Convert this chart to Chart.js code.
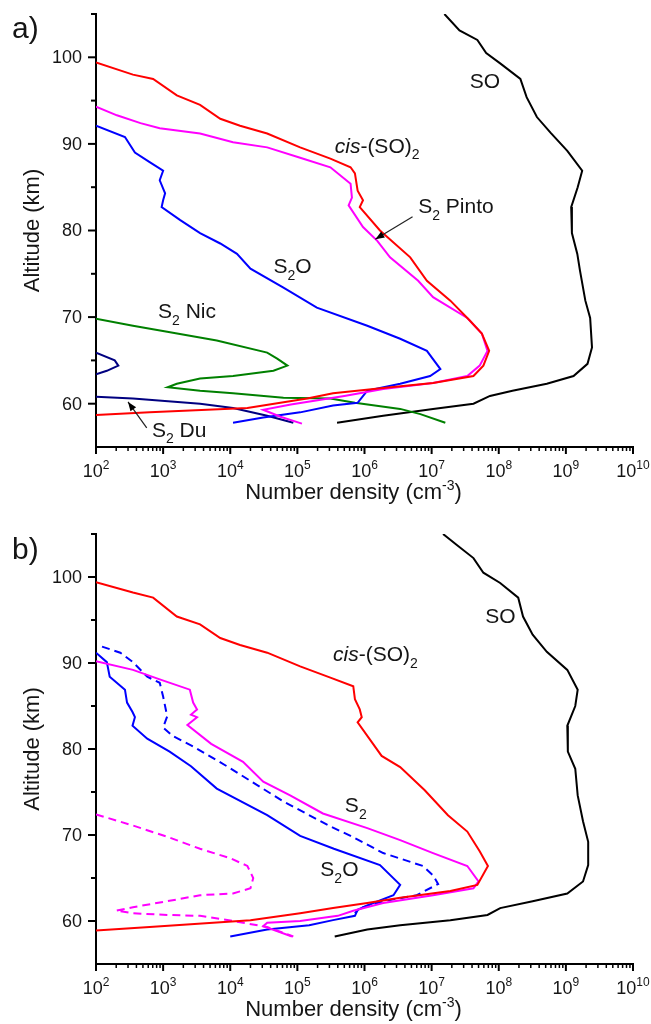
<!DOCTYPE html>
<html>
<head>
<meta charset="utf-8">
<script src="https://cdn.jsdelivr.net/npm/chart.js@4.4.1/dist/chart.umd.min.js"></script>
<style>
body { margin: 0; background: #fff; }
canvas { display: block; }
</style>
</head>
<body>
<canvas id="chartA" width="651" height="512"></canvas>
<canvas id="chartB" width="651" height="512"></canvas>
<script>
// ================================
// DATA  (altitude in km, number density in cm^-3)
// ================================

const altTicks = [60, 70, 80, 90, 100];
const altMinorTicks = [65, 75, 85, 95, 105];
const densityExponents = [2, 3, 4, 5, 6, 7, 8, 9, 10];

// ---- panel a ----
const soAltA = [105.0, 103.1, 102.0, 100.5, 99.3, 97.5, 95.4, 93.1, 91.3, 89.2, 86.9, 85.0, 82.7, 79.7, 77.3, 75.4, 71.9, 69.9, 66.5, 64.6, 63.2, 62.3, 61.5, 60.9, 60.0, 59.4, 58.6, 57.8];
const soDenA = [1.55e7, 2.6e7, 4.8e7, 6.5e7, 1.05e8, 2.1e8, 2.6e8, 3.7e8, 5.9e8, 1.05e9, 1.75e9, 1.5e9, 1.2e9, 1.23e9, 1.48e9, 1.62e9, 1.95e9, 2.3e9, 2.45e9, 2.1e9, 1.3e9, 5.2e8, 1.6e8, 7.4e7, 4.2e7, 1.05e7, 1.9e6, 3.9e5];

const cisAltA = [99.4, 98.0, 97.5, 95.6, 94.5, 92.9, 92.1, 91.2, 89.6, 88.3, 87.3, 86.6, 84.6, 83.5, 82.7, 80.0, 76.9, 74.2, 71.9, 69.6, 68.1, 66.1, 64.4, 63.2, 62.4, 61.8, 61.2, 60.6, 59.5, 59.0, 58.7];
const cisDenA = [1e2, 3.55e2, 7.1e2, 1.6e3, 3.55e3, 7.1e3, 1.4e4, 3.55e4, 1.1e5, 3.1e5, 6.2e5, 7.2e5, 7.9e5, 9.5e5, 8.5e5, 1.7e6, 4.8e6, 8.5e6, 1.9e7, 3.7e7, 5.6e7, 7.2e7, 5.9e7, 4.2e7, 1.05e7, 1.9e6, 3.4e5, 1.4e5, 1.8e4, 6.3e2, 1e2];

const pintoAltA = [94.3, 93.3, 92.4, 91.8, 91.2, 90.2, 89.6, 88.4, 87.3, 85.4, 83.8, 82.9, 80.4, 78.8, 76.9, 74.2, 72.3, 69.9, 68.1, 66.1, 64.4, 63.2, 62.4, 61.7, 60.9, 60.4, 59.9, 59.3, 58.5, 57.7];
const pintoDenA = [1e2, 2.05e2, 4.6e2, 8.9e2, 3.55e3, 1.1e4, 3.55e4, 1.1e5, 3.1e5, 6.2e5, 6.5e5, 5.8e5, 9.5e5, 1.55e6, 2.4e6, 6.3e6, 1.05e7, 3.4e7, 5.6e7, 6.8e7, 5.2e7, 3.4e7, 1.05e7, 1.9e6, 5e5, 2e5, 8e4, 3.1e4, 5.6e4, 1.17e5];

const s2oAltA = [92.1, 90.8, 89.0, 87.9, 86.9, 85.8, 84.3, 83.5, 82.7, 81.2, 79.7, 78.5, 77.3, 75.6, 73.4, 71.1, 69.0, 67.5, 66.1, 64.0, 63.2, 62.3, 61.5, 60.7, 60.1, 59.8, 59.0, 58.4, 57.8];
const s2oDenA = [1e2, 2.7e2, 3.8e2, 6.3e2, 1e3, 8.9e2, 1.07e3, 1e3, 9.5e2, 1.8e3, 3.55e3, 7.1e3, 1.26e4, 2e4, 6.2e4, 1.95e5, 1.1e6, 3.4e6, 8.5e6, 1.35e7, 9.5e6, 3.4e6, 1.1e6, 9.1e5, 7.9e5, 3.4e5, 1.1e5, 3.1e4, 1.1e4];

const nicAltA = [69.8, 69.0, 68.3, 67.3, 65.9, 65.2, 64.4, 63.8, 63.2, 62.9, 62.3, 61.9, 61.5, 61.2, 60.7, 60.6, 60.1, 59.4, 58.8, 57.8];
const nicDenA = [1e2, 3.55e2, 1.15e3, 6.3e3, 3.55e4, 5e4, 7.1e4, 4.4e4, 1.1e4, 3.55e3, 1.6e3, 1.17e3, 3.55e3, 1.1e4, 6.2e4, 3.1e5, 7.2e5, 3.4e6, 6.8e6, 1.6e7];

const duUpAltA = [65.9, 65.0, 64.4, 63.8, 63.4];
const duUpDenA = [1e2, 1.9e2, 2.15e2, 1.45e2, 1e2];
const duLowAltA = [60.8, 60.6, 60.0, 59.5, 58.6, 57.8];
const duLowDenA = [1e2, 3.55e2, 3.55e3, 1.1e4, 3.55e4, 8.7e4];

// ---- panel b ----
const soAltB = [105.0, 103.7, 102.2, 100.5, 99.3, 97.6, 95.4, 93.3, 91.3, 89.2, 86.9, 85.0, 82.7, 79.7, 77.7, 74.6, 71.6, 69.2, 66.5, 64.6, 63.2, 62.3, 61.5, 60.7, 60.1, 59.5, 59.0, 58.2];
const soDenB = [1.48e7, 2.4e7, 4.2e7, 5.9e7, 1.05e8, 1.95e8, 2.3e8, 3.2e8, 5.2e8, 1.05e9, 1.5e9, 1.38e9, 1.05e9, 1.07e9, 1.38e9, 1.5e9, 1.8e9, 2.15e9, 2.15e9, 1.8e9, 1.05e9, 3.2e8, 1.05e8, 6.8e7, 1.9e7, 3.4e6, 1.1e6, 3.6e5];

const cisAltB = [99.4, 98.2, 97.6, 95.4, 94.5, 92.9, 92.1, 91.2, 89.6, 88.3, 87.3, 85.8, 84.6, 83.7, 83.1, 79.2, 77.9, 75.2, 72.3, 70.4, 68.1, 66.4, 64.2, 63.5, 62.7, 62.1, 61.5, 60.9, 60.1, 59.3, 58.9];
const cisDenB = [1e2, 3.55e2, 7.1e2, 1.6e3, 3.55e3, 7.1e3, 1.4e4, 3.55e4, 1.1e5, 3.1e5, 6.8e5, 7.2e5, 8.5e5, 9.1e5, 7.9e5, 1.8e6, 3.4e6, 7.9e6, 1.75e7, 3.4e7, 5.2e7, 6.9e7, 4.8e7, 1.9e7, 3.4e6, 1.1e6, 3.4e5, 1.1e5, 2e4, 6.3e2, 1e2];

const s2AltB = [90.2, 89.2, 88.1, 86.9, 85.4, 84.6, 84.0, 83.7, 82.8, 80.6, 78.5, 76.2, 74.6, 72.5, 70.8, 69.4, 67.9, 66.4, 64.6, 63.8, 63.0, 62.1, 61.2, 60.6, 60.0, 59.8, 59.4, 58.2];
const s2DenB = [1e2, 3.55e2, 8.9e2, 2.5e3, 2.8e3, 3.2e3, 2.6e3, 3.2e3, 2.3e3, 5.2e3, 1.55e4, 3.1e4, 7.8e4, 2.4e5, 1.1e6, 3.4e6, 1.05e7, 3.4e7, 5e7, 4.2e7, 1.05e7, 1.9e6, 6.8e5, 4e5, 1.1e5, 3.55e4, 3.1e4, 8.3e4];

const s2oAltB = [91.2, 90.1, 88.4, 86.9, 85.4, 84.3, 83.7, 82.7, 81.2, 79.7, 78.0, 75.4, 72.3, 69.9, 68.4, 66.5, 64.2, 63.0, 62.4, 61.8, 61.3, 60.6, 60.1, 59.5, 59.0, 58.2];
const s2oDenB = [1e2, 1.45e2, 1.6e2, 2.7e2, 2.9e2, 3.5e2, 3.8e2, 3.5e2, 5.8e2, 1.25e3, 2.6e3, 6.3e3, 3.55e4, 1.1e5, 3.5e5, 1.7e6, 3.4e6, 2.7e6, 1.7e6, 1.1e6, 7.9e5, 7.2e5, 3.4e5, 1.5e5, 3.55e4, 1e4];

const s2oDashAltB = [91.9, 91.2, 90.1, 88.4, 87.7, 86.1, 83.8, 82.5, 81.5, 80.3, 78.0, 73.9, 71.0, 69.9, 67.9, 66.4, 65.3, 64.3, 63.0, 62.3, 61.5, 60.9];
const s2oDashDenB = [1.23e2, 2.3e2, 3.55e2, 5.8e2, 8.9e2, 1e3, 1.15e3, 1e3, 1.4e3, 2.8e3, 8.9e3, 6.2e4, 3.1e5, 6.2e5, 1.9e6, 7.4e6, 1.05e7, 1.25e7, 6e6, 1.9e6, 8.5e5, 7.2e5];

const s2DashAltB = [72.4, 71.1, 69.8, 68.4, 67.3, 66.4, 65.0, 63.8, 63.2, 63.0, 62.3, 61.6, 61.2, 60.9, 60.7, 60.6, 60.0, 59.3, 58.2];
const s2DashDenB = [1e2, 3.55e2, 1.15e3, 3.55e3, 1e4, 1.8e4, 2.2e4, 2e4, 1.1e4, 3.55e3, 1.15e3, 3.55e2, 2e2, 3.55e2, 1.15e3, 3.55e3, 1.1e4, 3.55e4, 8.7e4];

// ================================
// HELPERS
// ================================

const FONT = '"Liberation Sans", Arial, sans-serif';
const TEXT = "#151515";

function pts(den, alt) {
    return den.map((d, i) => ({ x: d, y: alt[i] }));
}

function line(label, den, alt, color, dash) {
    return {
        label: label,
        data: pts(den, alt),
        showLine: true,
        borderColor: color,
        backgroundColor: color,
        borderWidth: 2,
        borderDash: dash || [],
        pointRadius: 0,
        tension: 0
    };
}

// parts: [text, kind]  kind: "" | "i" | "sub" | "sup"
function drawRich(ctx, x, y, parts, size, align) {
    const fontOf = p => {
        const s = (p[1] === "sub" || p[1] === "sup") ? Math.round(size * 0.65) : size;
        return (p[1] === "i" ? "italic " : "") + s + "px " + FONT;
    };
    const widths = parts.map(p => { ctx.font = fontOf(p); return ctx.measureText(p[0]).width; });
    const total = widths.reduce((a, b) => a + b, 0);
    let cx = align === "center" ? x - total / 2 : x;
    ctx.textAlign = "left";
    ctx.textBaseline = "alphabetic";
    parts.forEach((p, i) => {
        ctx.font = fontOf(p);
        let dy = 0;
        if (p[1] === "sub") dy = size * 0.32;
        if (p[1] === "sup") dy = -size * 0.42;
        ctx.fillText(p[0], cx, y + dy);
        cx += widths[i];
    });
}

function arrow(ctx, x1, y1, x2, y2) {
    ctx.beginPath();
    ctx.moveTo(x1, y1);
    ctx.lineTo(x2, y2);
    ctx.stroke();
    const a = Math.atan2(y2 - y1, x2 - x1);
    const L = 9, W = 3.5;
    ctx.beginPath();
    ctx.moveTo(x2, y2);
    ctx.lineTo(x2 - L * Math.cos(a) + W * Math.sin(a), y2 - L * Math.sin(a) - W * Math.cos(a));
    ctx.lineTo(x2 - L * Math.cos(a) - W * Math.sin(a), y2 - L * Math.sin(a) + W * Math.cos(a));
    ctx.closePath();
    ctx.fill();
}

// ================================
// AXES + LABELS PLUGIN
// ================================

const decor = {
    id: "decor",
    afterDraw(chart, args, opts) {
        const ctx = chart.ctx;
        const xs = chart.scales.x;
        const ys = chart.scales.y;
        const area = chart.chartArea;

        ctx.save();
        ctx.strokeStyle = "#000";
        ctx.fillStyle = TEXT;
        ctx.lineWidth = 2;

        // y ticks
        altTicks.concat(altMinorTicks).forEach(v => {
            const py = ys.getPixelForValue(v);
            const len = altTicks.includes(v) ? 8 : 5;
            ctx.beginPath();
            ctx.moveTo(area.left - len, py);
            ctx.lineTo(area.left, py);
            ctx.stroke();
        });
        ctx.font = "18px " + FONT;
        ctx.textAlign = "right";
        ctx.textBaseline = "middle";
        altTicks.forEach(v => {
            ctx.fillText(String(v), area.left - 14, ys.getPixelForValue(v) + 1);
        });

        // x ticks
        densityExponents.forEach(e => {
            const px = xs.getPixelForValue(Math.pow(10, e));
            ctx.lineWidth = 2;
            ctx.beginPath();
            ctx.moveTo(px, area.bottom);
            ctx.lineTo(px, area.bottom + 7);
            ctx.stroke();
            if (e < 10) {
                ctx.lineWidth = 1.5;
                for (let m = 2; m <= 9; m++) {
                    const pm = xs.getPixelForValue(m * Math.pow(10, e));
                    ctx.beginPath();
                    ctx.moveTo(pm, area.bottom);
                    ctx.lineTo(pm, area.bottom + 4);
                    ctx.stroke();
                }
            }
            drawRich(ctx, px, area.bottom + 30, [["10", ""], [String(e), "sup"]], 18, "center");
        });

        // axis titles
        ctx.save();
        ctx.translate(33, (area.top + area.bottom) / 2);
        ctx.rotate(-Math.PI / 2);
        ctx.font = "22px " + FONT;
        ctx.textAlign = "center";
        ctx.textBaseline = "middle";
        ctx.fillText("Altitude (km)", 0, 0);
        ctx.restore();

        drawRich(ctx, (area.left + area.right) / 2 - 11, area.bottom + 52,
            [["Number density (cm", ""], ["-3", "sup"], [")", ""]], 22, "center");

        // panel letter
        ctx.font = "30px " + FONT;
        ctx.textAlign = "left";
        ctx.textBaseline = "alphabetic";
        ctx.fillText(opts.letter, 12, opts.letterY);

        // species labels
        opts.labels.forEach(l => {
            drawRich(ctx, xs.getPixelForValue(l.x), ys.getPixelForValue(l.y), l.parts, 21, "left");
        });

        // arrows
        ctx.strokeStyle = "#222";
        ctx.fillStyle = "#000";
        ctx.lineWidth = 1.2;
        (opts.arrows || []).forEach(a => {
            arrow(ctx,
                xs.getPixelForValue(a.x1), ys.getPixelForValue(a.y1),
                xs.getPixelForValue(a.x2), ys.getPixelForValue(a.y2));
        });

        ctx.restore();
    }
};

function makeOptions(topPad, bottomSpace, decorOpts) {
    return {
        responsive: false,
        animation: false,
        layout: { padding: { top: topPad, right: 18, left: 0, bottom: 0 } },
        plugins: {
            legend: { display: false },
            tooltip: { enabled: false },
            decor: decorOpts
        },
        scales: {
            x: {
                type: "logarithmic",
                min: 1e2,
                max: 1e10,
                grid: { display: false },
                ticks: { display: false },
                border: { display: true, color: "#000", width: 2 },
                afterFit: s => { s.height = bottomSpace; }
            },
            y: {
                type: "linear",
                min: 55,
                max: 105,
                grid: { display: false },
                ticks: { display: false },
                border: { display: true, color: "#000", width: 2 },
                afterFit: s => { s.width = 96; }
            }
        }
    };
}

// ================================
// PANEL A
// ================================

new Chart(document.getElementById("chartA"), {
    type: "scatter",
    data: {
        datasets: [
            line("cis-(SO)2", cisDenA, cisAltA, "#ff0000"),
            line("S2 Pinto", pintoDenA, pintoAltA, "#ff00ff"),
            line("S2O", s2oDenA, s2oAltA, "#0000ff"),
            line("S2 Du", duUpDenA, duUpAltA, "#000080"),
            line("S2 Du", duLowDenA, duLowAltA, "#000080"),
            line("S2 Nic", nicDenA, nicAltA, "#008000"),
            line("SO", soDenA, soAltA, "#000000")
        ]
    },
    options: makeOptions(14, 65, {
        letter: "a)",
        letterY: 38,
        labels: [
            { x: 3.7e7, y: 96.5, parts: [["SO", ""]] },
            { x: 3.6e5, y: 89.0, parts: [["cis", "i"], ["-(SO)", ""], ["2", "sub"]] },
            { x: 6.3e6, y: 82.0, parts: [["S", ""], ["2", "sub"], [" Pinto", ""]] },
            { x: 4.4e4, y: 75.1, parts: [["S", ""], ["2", "sub"], ["O", ""]] },
            { x: 8.4e2, y: 69.9, parts: [["S", ""], ["2", "sub"], [" Nic", ""]] },
            { x: 6.8e2, y: 56.2, parts: [["S", ""], ["2", "sub"], [" Du", ""]] }
        ],
        arrows: [
            { x1: 5.2e6, y1: 81.6, x2: 1.45e6, y2: 79.0 },
            { x1: 5.7e2, y1: 57.2, x2: 3.0e2, y2: 60.2 }
        ]
    }),
    plugins: [decor]
});

// ================================
// PANEL B
// ================================

new Chart(document.getElementById("chartB"), {
    type: "scatter",
    data: {
        datasets: [
            line("cis-(SO)2", cisDenB, cisAltB, "#ff0000"),
            line("S2", s2DenB, s2AltB, "#ff00ff"),
            line("S2 (dashed)", s2DashDenB, s2DashAltB, "#ff00ff", [8, 5]),
            line("S2O", s2oDenB, s2oAltB, "#0000ff"),
            line("S2O (dashed)", s2oDashDenB, s2oDashAltB, "#0000ff", [8, 5]),
            line("SO", soDenB, soAltB, "#000000")
        ]
    },
    options: makeOptions(22, 60, {
        letter: "b)",
        letterY: 47,
        labels: [
            { x: 6.3e7, y: 94.7, parts: [["SO", ""]] },
            { x: 3.4e5, y: 90.2, parts: [["cis", "i"], ["-(SO)", ""], ["2", "sub"]] },
            { x: 5.1e5, y: 72.7, parts: [["S", ""], ["2", "sub"]] },
            { x: 2.2e5, y: 65.2, parts: [["S", ""], ["2", "sub"], ["O", ""]] }
        ]
    }),
    plugins: [decor]
});
</script>
</body>
</html>
